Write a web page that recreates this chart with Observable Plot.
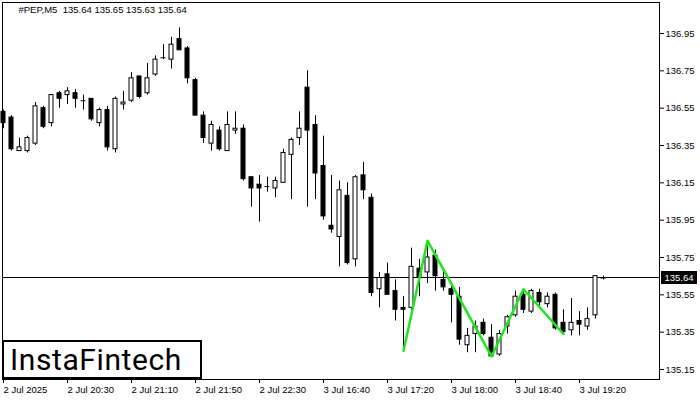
<!DOCTYPE html>
<html><head><meta charset="utf-8">
<script src="https://cdn.jsdelivr.net/npm/d3@7"></script>
<script src="https://cdn.jsdelivr.net/npm/@observablehq/plot@0.6"></script>
<style>
html,body{margin:0;padding:0;background:#fff;}
#wrap{position:relative;width:700px;height:400px;overflow:hidden;background:#fff;}
#wrap svg{display:block;}
.logo{position:absolute;box-sizing:border-box;background:#fff;border:2px solid #000;font-family:Roboto,"Liberation Sans",sans-serif;font-weight:400;color:#000;white-space:nowrap;}
.price{position:absolute;background:#000;color:#fff;font-family:"Liberation Sans",Arial,sans-serif;font-size:9.5px;text-align:center;box-sizing:border-box;}
</style></head><body><div id="wrap"></div>
<script>
const symbolTitle = "#PEP,M5  135.64 135.65 135.63 135.64";
const brand = "InstaFintech";
const lastPrice = 135.64;

const opens = [136.53,136.50,136.32,136.32,136.36,136.55,136.47,136.63,136.62,136.63,136.59,136.60,136.47,136.54,136.33,136.57,136.59,136.72,136.63,136.73,136.82,136.81,136.92,136.87,136.70,136.51,136.36,136.43,136.32,136.43,136.44,136.18,136.14,136.13,136.12,136.15,136.30,136.39,136.66,136.46,136.24,135.92,135.86,136.08,135.74,136.19,136.07,135.58,135.66,135.57,135.48,135.48,135.69,135.67,135.76,135.63,135.58,135.54,135.28,135.34,135.40,135.32,135.23,135.38,135.44,135.55,135.46,135.56,135.50,135.55,135.40,135.36,135.41,135.38,135.44,135.64];
const highs = [136.54,136.51,136.39,136.40,136.58,136.56,136.62,136.64,136.66,136.65,136.62,136.60,136.55,136.56,136.61,136.64,136.74,136.72,136.79,136.83,136.89,136.93,136.98,136.88,136.71,136.53,136.48,136.45,136.53,136.53,136.46,136.18,136.19,136.18,136.18,136.33,136.39,136.53,136.75,136.51,136.40,136.19,136.16,136.15,136.19,136.26,136.09,135.67,135.72,135.63,135.54,135.80,135.74,135.83,135.79,135.68,135.61,135.59,135.37,135.41,135.42,135.39,135.36,135.44,135.57,135.58,135.58,135.58,135.56,135.56,135.47,135.53,135.46,135.48,135.65,135.65];
const lows = [136.44,136.32,136.32,136.31,136.35,136.44,136.45,136.55,136.57,136.55,136.54,136.48,136.45,136.32,136.31,136.54,136.58,136.60,136.62,136.72,136.81,136.76,136.86,136.68,136.51,136.36,136.32,136.32,136.32,136.41,136.16,136.02,135.94,136.10,136.07,136.15,136.06,136.35,136.02,136.06,135.95,135.88,135.70,135.71,135.70,136.06,135.54,135.48,135.55,135.41,135.25,135.42,135.54,135.61,135.57,135.57,135.40,135.28,135.24,135.24,135.33,135.22,135.22,135.34,135.43,135.45,135.45,135.49,135.48,135.36,135.34,135.33,135.33,135.36,135.42,135.63];
const closes = [136.47,136.33,136.34,136.39,136.56,136.45,136.62,136.60,136.64,136.60,136.59,136.49,136.54,136.34,136.60,136.58,136.71,136.61,136.71,136.81,136.82,136.89,136.86,136.71,136.51,136.39,136.46,136.33,136.46,136.44,136.17,136.12,136.12,136.13,136.16,136.31,136.38,136.44,136.43,136.20,135.97,135.90,136.11,135.72,136.18,136.11,135.56,135.64,135.55,135.47,135.47,135.70,135.64,135.75,135.65,135.59,135.55,135.31,135.33,135.38,135.34,135.22,135.34,135.43,135.54,135.47,135.57,135.51,135.54,135.37,135.35,135.40,135.39,135.42,135.65,135.64];

// pattern (green zig-zag): bar index and price
const patternBars = [50, 53, 61, 65, 70];
const patternPrices = [135.25, 135.84, 135.22, 135.58, 135.34];

const yTicks = [135.15,135.35,135.55,135.75,135.95,136.15,136.35,136.55,136.75,136.95];
const xTickBars = [0, 8, 16, 24, 32, 40, 48, 56, 64, 72];
const xTickLabels = ["2 Jul 2025","2 Jul 20:30","2 Jul 21:10","2 Jul 21:50","2 Jul 22:30","3 Jul 16:40","3 Jul 17:20","3 Jul 18:00","3 Jul 18:40","3 Jul 19:20"];

const candles = opens.map((o, i) => ({i, open: o, high: highs[i], low: lows[i], close: closes[i]}));
const dojis = candles.filter(d => d.open === d.close);
const pattern = patternBars.map((b, k) => ({i: b, v: patternPrices[k]}));

const chart = Plot.plot({
  width: 700, height: 400,
  marginLeft: 2, marginRight: 41, marginTop: 2, marginBottom: 21,
  style: {fontFamily: "'Liberation Sans', Arial, sans-serif", fontSize: "9.5px", color: "#000", background: "#fff"},
  x: {type: "linear", domain: [-0.125, 82], axis: null, label: null},
  y: {domain: [135.0964, 137.1161], axis: null, label: null},
  marks: [
    Plot.ruleY([lastPrice], {stroke: "#000", dy: -0.5}),
    Plot.ruleX(candles, {x: "i", y1: "low", y2: "high", stroke: "#000"}),
    Plot.rect(candles, {x1: d => d.i - 0.5, x2: d => d.i + 0.5, y1: "open", y2: "close", insetLeft: 2, insetRight: 2,
      fill: d => d.close >= d.open ? "#fff" : "#000", stroke: "#000", strokeWidth: 1}),
    Plot.ruleY(dojis, {y: "open", x1: d => d.i - 0.3125, x2: d => d.i + 0.3125, stroke: "#000"}),
    Plot.line(pattern, {x: "i", y: "v", stroke: "#1ee61e", strokeWidth: 2.5}),
    Plot.frame({stroke: "#000"}),
    Plot.axisY({anchor: "right", ticks: yTicks, tickFormat: d => d.toFixed(2), tickSize: 4, tickPadding: 2, label: null}),
    Plot.axisX({ticks: xTickBars, tickFormat: d => xTickLabels[xTickBars.indexOf(d)], textAnchor: "start", tickSize: 4, tickPadding: 3, label: null}),
    Plot.text([symbolTitle], {frameAnchor: "top-left", text: d => d, dx: 16, dy: 4, lineAnchor: "top", textAnchor: "start", fill: "#000"})
  ]
});

const wrap = document.getElementById("wrap");
wrap.appendChild(chart);

const yc = chart.scale("y").apply(lastPrice);
const pl = document.createElement("div");
pl.className = "price";
pl.textContent = lastPrice.toFixed(2);
pl.style.left = "661px"; pl.style.top = (yc - 6.5) + "px";
pl.style.width = "36px"; pl.style.height = "13px"; pl.style.lineHeight = "13px";
wrap.appendChild(pl);

const logo = document.createElement("div");
logo.className = "logo";
logo.textContent = brand;
logo.style.left = "2px"; logo.style.top = "340px";
logo.style.width = "200px"; logo.style.height = "39px";
logo.style.fontSize = "30px"; logo.style.lineHeight = "35px"; logo.style.paddingLeft = "6px";
logo.style.letterSpacing = "0.6px";
wrap.appendChild(logo);
</script>
</body></html>
